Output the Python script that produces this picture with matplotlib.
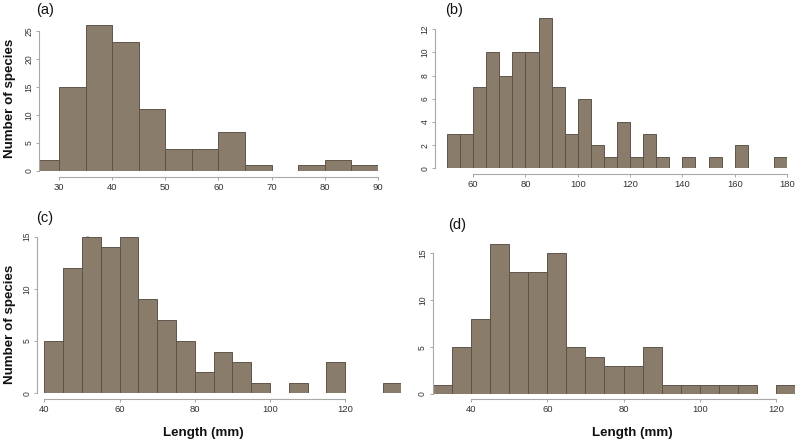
import matplotlib
matplotlib.use("Agg")
import matplotlib.pyplot as plt
import numpy as np

plt.rcParams['font.family'] = ['Liberation Sans', 'DejaVu Sans']

# ---- data (bin width 5 mm) ----
a_edges_start = 25
a_counts = [2, 15, 26, 23, 11, 4, 4, 7, 1, 0, 1, 2, 1]
b_edges_start = 50
b_counts = [3, 3, 7, 10, 8, 10, 10, 13, 7, 3, 6, 2, 1, 4, 1, 3, 1, 0, 1, 0, 1, 0, 2, 0, 0, 1]
c_edges_start = 40
c_counts = [5, 12, 15, 14, 15, 9, 7, 5, 2, 4, 3, 1, 0, 1, 0, 3, 0, 0, 1]
d_edges_start = 30
d_counts = [1, 5, 8, 16, 13, 13, 15, 5, 4, 3, 3, 5, 1, 1, 1, 1, 1, 0, 1]
bin_width = 5

a_xticks = [30, 40, 50, 60, 70, 80, 90]
b_xticks = [60, 80, 100, 120, 140, 160, 180]
c_xticks = [40, 60, 80, 100, 120]
d_xticks = [40, 60, 80, 100, 120]
a_yticks = [0, 5, 10, 15, 20, 25]
b_yticks = [0, 2, 4, 6, 8, 10, 12]
c_yticks = [0, 5, 10, 15]
d_yticks = [0, 5, 10, 15]

W, H = 798, 443
fig = plt.figure(figsize=(W / 100, H / 100), dpi=100)

BAR = '#8A7C6A'
EDGE = '#5E5449'
AXC = '#A8A8A8'
TXT = '#333333'


def panel(counts, start, xlim, left, right, bottom, pxunit, ytop,
          xticks, yticks, yout, xout, label, lab_xy):
    top = bottom - ytop * pxunit
    ax = fig.add_axes([left / W, 1 - bottom / H, (right - left) / W, (bottom - top) / H])
    edges = start + bin_width * np.arange(len(counts))
    ax.bar(edges, counts, width=bin_width, align='edge', color=BAR,
           edgecolor=EDGE, linewidth=0.7, clip_on=True)
    ax.set_xlim(*xlim)
    ax.set_ylim(0, ytop)
    ax.patch.set_visible(False)
    for s in ['top', 'right']:
        ax.spines[s].set_visible(False)
    ax.spines['left'].set_position(('outward', yout * 0.72))
    ax.spines['bottom'].set_position(('outward', xout * 0.72))
    ax.spines['left'].set_bounds(yticks[0], yticks[-1])
    ax.spines['bottom'].set_bounds(xticks[0], xticks[-1])
    for s in ['left', 'bottom']:
        ax.spines[s].set_color(AXC)
        ax.spines[s].set_linewidth(0.8)
    ax.set_xticks(xticks)
    ax.set_yticks(yticks)
    ax.tick_params(axis='both', colors=AXC, length=2.5, width=0.7,
                   labelsize=6.8, labelcolor=TXT, pad=1.5)
    ax.tick_params(axis='y', labelrotation=90, labelsize=6.2)
    for t in ax.get_yticklabels():
        t.set_va('center')
    fig.text(lab_xy[0] / W, 1 - lab_xy[1] / H, label, fontsize=10.5,
             ha='left', va='center', color='#111111')
    return ax


panel(a_counts, a_edges_start, (26.24, 90), 39, 378, 171, 5.6, 27,
      a_xticks, a_yticks, 0, 6.3, '(a)', (36, 10))
panel(b_counts, b_edges_start, (50, 180), 447, 787, 168.3, 11.6, 14,
      b_xticks, b_yticks, 12, 6, '(b)', (445, 10))
axc = panel(c_counts, c_edges_start, (40, 135), 44.3, 401.5, 393.3, 10.44, 16,
            c_xticks, c_yticks, 7, 6, '(c)', (36, 218))
panel(d_counts, d_edges_start, (30, 125), 433, 795, 394, 9.375, 17,
      d_xticks, d_yticks, 0.5, 5.3, '(d)', (448, 225))

# small stray mark present in panel (c)
axc.text(51.5, 15, '×', fontsize=4, color='#555555', ha='center', va='center')

for yc in (98, 324):
    fig.text(10 / W, 1 - yc / H, 'Number of species', rotation=90,
             fontsize=9.6, fontweight='bold', ha='center', va='center', color='#111111')
for xc in (203, 632):
    fig.text(xc / W, 1 - 433 / H, 'Length (mm)', fontsize=9.6,
             fontweight='bold', ha='center', va='center', color='#111111')

fig.savefig('out.png', dpi=100)
